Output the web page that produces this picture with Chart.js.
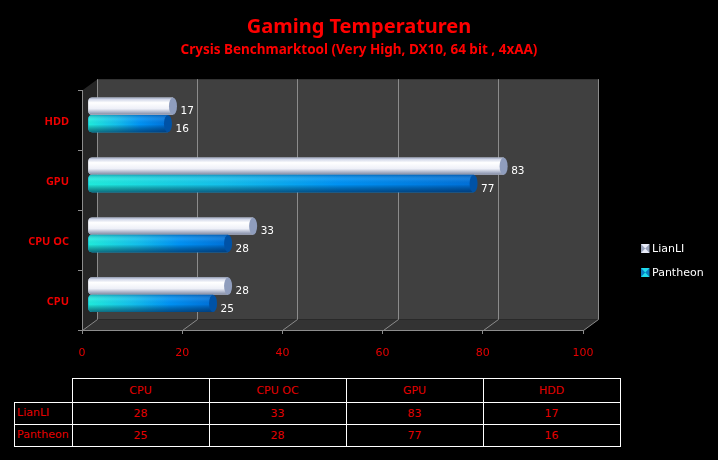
<!DOCTYPE html>
<html>
<head>
<meta charset="utf-8">
<title>Gaming Temperaturen</title>
<script src="https://cdn.jsdelivr.net/npm/chart.js@4"></script>
<style>
    html, body { margin: 0; padding: 0; background: #000; }
    #wrap { position: relative; width: 718px; height: 460px; overflow: hidden; }
    #tempChart { position: absolute; left: 0; top: 0; }
    #tempTable {
        position: absolute; left: 14px; top: 378px;
        border-collapse: collapse; table-layout: fixed;
        font: 11px "DejaVu Sans", sans-serif; color: #e60000;
    }
    #tempTable td { border: 1px solid #fff; padding: 0; text-align: center; height: 21px; width: 136px; }
    #tempTable tr:first-child td { height: 22px; padding-bottom: 1px; }
    #tempTable td.blank { border: none; width: 57px; }
    #tempTable td.name { width: 57px; text-align: left; padding: 0 0 3px 2px; box-sizing: border-box; }
</style>
</head>
<body>
<div id="wrap">
    <canvas id="tempChart" width="718" height="370"></canvas>
    <table id="tempTable"></table>
</div>
<script>
const categories = ['CPU', 'CPU OC', 'GPU', 'HDD'];
const lianLi = [28, 33, 83, 17];
const pantheon = [25, 28, 77, 16];
const seriesNames = ['LianLI', 'Pantheon'];

const fontName = '"DejaVu Sans", sans-serif';
const headFont = '"Noto Sans", sans-serif';
// depth of the fake 3d box, and how far the bars sit inside it
const depthX = 15, depthY = -11;
const barShiftX = 5.8, barShiftY = -5.3;

// silver cylinder, shaded across its height
function lianFill(ctx, bar) {
    const top = bar.y - bar.height / 2;
    const g = ctx.createLinearGradient(0, top, 0, top + bar.height);
    g.addColorStop(0, '#8e98b0');
    g.addColorStop(0.1, '#d0d6e8');
    g.addColorStop(0.3, '#ffffff');
    g.addColorStop(0.65, '#eef0f8');
    g.addColorStop(0.85, '#aab2c8');
    g.addColorStop(1, '#80889f');
    ctx.fillStyle = g;
    ctx.beginPath();
    ctx.roundRect(bar.base, top, bar.x - bar.base, bar.height, [4, 0, 0, 4]);
    ctx.fill();
}

// cyan to blue along the bar, whatever its length, then dark edges on top
function pantheonFill(ctx, bar) {
    const top = bar.y - bar.height / 2;
    const g = ctx.createLinearGradient(bar.base, 0, bar.x, 0);
    g.addColorStop(0, '#20ecdc');
    g.addColorStop(0.35, '#14c0ec');
    g.addColorStop(0.65, '#0092f4');
    g.addColorStop(1, '#0070d8');
    ctx.fillStyle = g;
    ctx.beginPath();
    ctx.roundRect(bar.base, top, bar.x - bar.base, bar.height, [4, 0, 0, 4]);
    ctx.fill();
    const s = ctx.createLinearGradient(0, top, 0, top + bar.height);
    s.addColorStop(0, 'rgba(0,40,90,0.3)');
    s.addColorStop(0.28, 'rgba(255,255,255,0.08)');
    s.addColorStop(0.55, 'rgba(0,0,0,0)');
    s.addColorStop(1, 'rgba(0,30,70,0.6)');
    ctx.fillStyle = s;
    ctx.fill();
}

// small pyramid shaded square for the series key
function keyMarker(ctx, x, y, i) {
    const w = 8.5, h = 9;
    ctx.fillStyle = i === 0 ? '#9aa4bc' : '#0a7cc0';
    ctx.fillRect(x, y, w, h);
    ctx.fillStyle = i === 0 ? '#e8ecf8' : '#20dcec';
    ctx.beginPath();
    ctx.moveTo(x, y);
    ctx.lineTo(x + w, y);
    ctx.lineTo(x, y + h);
    ctx.lineTo(x + w, y + h);
    ctx.closePath();
    ctx.fill();
}

const boxPlugin = {
    id: 'box',
    // walls and floor of the box, behind everything
    beforeDraw(chart) {
        const ctx = chart.ctx, area = chart.chartArea, xScale = chart.scales.x;
        const l = area.left + 0.5, r = area.right + 0.5, t = area.top, b = area.bottom + 0.5;
        ctx.save();
        ctx.fillStyle = '#404040';
        ctx.fillRect(l + depthX, t + depthY, r - l, b - t);
        ctx.fillStyle = '#262626';
        ctx.beginPath();
        ctx.moveTo(l, t);
        ctx.lineTo(l + depthX, t + depthY);
        ctx.lineTo(l + depthX, b + depthY);
        ctx.lineTo(l, b);
        ctx.closePath();
        ctx.fill();
        ctx.fillStyle = '#333333';
        ctx.beginPath();
        ctx.moveTo(l, b);
        ctx.lineTo(l + depthX, b + depthY);
        ctx.lineTo(r + depthX, b + depthY);
        ctx.lineTo(r, b);
        ctx.closePath();
        ctx.fill();

        ctx.strokeStyle = '#8c8c8c';
        ctx.lineWidth = 1;
        xScale.ticks.forEach(tick => {
            const x = Math.round(xScale.getPixelForValue(tick.value)) + 0.5;
            ctx.beginPath();
            ctx.moveTo(x, b);
            ctx.lineTo(x + depthX, b + depthY);
            ctx.lineTo(x + depthX, t + depthY);
            ctx.stroke();
        });
        ctx.restore();
    },
    beforeDatasetsDraw(chart) {
        chart.ctx.save();
        chart.ctx.translate(barShiftX, barShiftY);
    },
    afterDatasetsDraw(chart) {
        const ctx = chart.ctx;
        chart.data.datasets.forEach((ds, i) => {
            chart.getDatasetMeta(i).data.forEach((bar, n) => {
                if (i === 0) lianFill(ctx, bar);
                else pantheonFill(ctx, bar);
                // end cap
                ctx.fillStyle = i === 0 ? '#8f9dbd' : '#0052a6';
                ctx.beginPath();
                ctx.ellipse(bar.x, bar.y, 4, bar.height / 2, 0, 0, Math.PI * 2);
                ctx.fill();
                // value label
                ctx.fillStyle = '#fff';
                ctx.font = '10.5px ' + fontName;
                ctx.textAlign = 'left';
                ctx.textBaseline = 'middle';
                ctx.fillText(ds.data[n], bar.x + 7.5, bar.y + 5.5);
            });
        });
        ctx.restore();
    },
    afterDraw(chart) {
        // series key on the right
        const ctx = chart.ctx;
        ctx.save();
        seriesNames.forEach((name, i) => {
            const y = 244 + i * 24;
            keyMarker(ctx, 641, y, i);
            ctx.fillStyle = '#fff';
            ctx.font = '11px ' + fontName;
            ctx.textAlign = 'left';
            ctx.textBaseline = 'middle';
            ctx.fillText(name, 652, y + 5);
        });
        ctx.restore();
    }
};

new Chart(document.getElementById('tempChart').getContext('2d'), {
    type: 'bar',
    data: {
        labels: categories,
        datasets: [
            { label: seriesNames[0], data: lianLi, backgroundColor: '#e6e9f4' },
            { label: seriesNames[1], data: pantheon, backgroundColor: '#0092f4' }
        ]
    },
    options: {
        indexAxis: 'y',
        responsive: false,
        animation: false,
        devicePixelRatio: 1,
        datasets: {
            bar: {
                categoryPercentage: 0.58,
                barPercentage: 1,
                borderRadius: { topLeft: 4, bottomLeft: 4, topRight: 0, bottomRight: 0 },
                borderSkipped: false
            }
        },
        scales: {
            x: {
                min: 0,
                max: 100,
                afterFit(scale) { scale.height = 40; },
                grid: { drawOnChartArea: false, color: '#8c8c8c', tickLength: 4 },
                border: { color: '#8c8c8c' },
                ticks: { stepSize: 20, color: '#e60000', padding: 13, maxRotation: 0, font: { family: fontName, size: 11 } }
            },
            y: {
                reverse: true,
                afterFit(scale) { scale.width = 82; },
                grid: { drawOnChartArea: false, color: '#8c8c8c', tickLength: 4 },
                border: { color: '#8c8c8c' },
                ticks: { color: '#f00000', padding: 9, labelOffset: 2, font: { family: headFont, size: 11, weight: 'bold' } }
            },
            // empty axis that keeps the room for the series key, the titles still span the full width
            keySpace: {
                axis: 'y',
                type: 'linear',
                position: 'right',
                afterFit(scale) { scale.width = 135; },
                grid: { display: false },
                border: { display: false },
                ticks: { display: false }
            }
        },
        plugins: {
            legend: { display: false },
            tooltip: { enabled: false },
            title: {
                display: true,
                text: 'Gaming Temperaturen',
                color: '#ff0000',
                font: { family: headFont, size: 20, weight: 'bold' },
                padding: { top: 15, bottom: 0 }
            },
            subtitle: {
                display: true,
                text: 'Crysis Benchmarktool (Very High, DX10, 64 bit , 4xAA)',
                color: '#ff0000',
                font: { family: headFont, size: 13.5, weight: 'bold' },
                padding: { top: 3, bottom: 32 }
            }
        }
    },
    plugins: [boxPlugin]
});

// value table below the chart
const table = document.getElementById('tempTable');
let html = '<tr><td class="blank"></td>' + categories.map(c => '<td>' + c + '</td>').join('') + '</tr>';
[lianLi, pantheon].forEach((row, i) => {
    html += '<tr><td class="name">' + seriesNames[i] + '</td>' + row.map(v => '<td>' + v + '</td>').join('') + '</tr>';
});
table.innerHTML = html;
</script>
</body>
</html>
